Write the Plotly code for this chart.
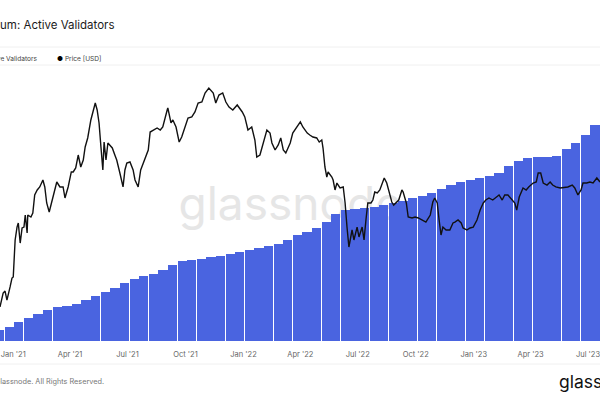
import pandas as pd
import plotly.graph_objects as go

# ---------------- data ----------------
# Active validators (thousands), semi-monthly bars starting 2020-12-10
bar_start = "2020-12-10 12:00"
validators_k = [35, 44, 60, 72, 85, 98, 107, 110, 117, 129, 142, 154, 167, 183, 195, 205, 211, 224, 239, 252, 255, 258,
                265, 268, 274, 280, 287, 293, 299, 306, 318, 334, 343, 356, 375, 400, 413, 416, 419, 422, 428, 435,
                441, 450, 457, 466, 479, 491, 501, 507, 513, 520, 529, 551, 567, 576, 580, 580, 583, 605, 624, 649,
                680, 718]
bar_dates = pd.date_range(bar_start, periods=len(validators_k), freq=pd.Timedelta(days=365.25 / 24))

# ETH price [USD]: day offsets from 2020-12-11 and prices
price_start = "2020-12-11"
price_days = [0,5,8,11,16,19,21,24,27,29,32,35,38,40,43,44,49,52,55,59,63,68,71,74,78,82,87,90,95,100,
              103,108,113,116,120,124,128,132,135,139,144,147,151,154,157,160,163,165,168,171,178,182,185,190,195,198,201,206,211,214,
              219,223,230,235,238,243,249,254,258,265,266,271,274,279,284,288,293,298,304,309,314,320,325,331,338,342,347,353,358,363,
              369,376,384,388,393,399,404,407,412,417,423,428,431,436,441,445,449,453,460,464,471,476,480,487,491,496,502,506,510,512,
              515,518,520,526,528,531,534,539,544,547,550,553,558,561,566,569,574,577,580,583,588,591,594,598,602,607,609,613,617,621,
              624,629,632,637,639,644,647,653,658,663,669,675,682,686,689,693,696,699,702,707,713,718,721,726,731,734,740,745,750,756,
              761,766,770,775,781,786,791,796,800,805,812,816,819,823,829,834,838,845,850,853,857,861,867,872,876,881,888,896,900,907,
              911,916,921,924,930,935,940,946,951]
price_usd = [553,634,647,592,674,736,744,1072,1218,1268,1040,1207,1218,1372,1149,1372,1345,1400,1672,1757,
             1810,1939,1810,1545,1413,1560,1810,1901,1810,1810,1623,1810,2099,2099,2184,2482,2205,2363,2688,2937,
             3509,3760,4149,3873,3407,2688,2141,2822,2363,2795,2661,2482,2363,2078,1810,2141,2294,2317,2141,1939,
             1810,2141,2410,2608,3115,3178,3242,3178,3274,3873,3951,3407,3509,3274,2822,2963,3274,3579,3615,3797,
             4149,4190,4582,4810,4582,4149,4491,4582,4190,3989,3873,4069,3797,3615,3178,3274,2879,2433,2482,2795,
             3178,3084,2795,2608,2741,2937,2608,2531,2795,3084,3274,3441,3274,3084,3025,2966,2937,2822,2879,2659,
             2205,1997,2099,1997,1939,1757,1882,1792,1810,1545,1218,1000,1183,1072,1218,1104,1218,1072,1306,1545,
             1545,1591,1722,1705,1757,1901,1978,1882,1705,1560,1514,1560,1591,1757,1722,1545,1345,1332,1345,1332,
             1306,1280,1372,1560,1623,1545,1306,1126,1218,1183,1183,1268,1280,1306,1268,1207,1183,1207,1218,1306,
             1441,1545,1591,1623,1591,1639,1672,1591,1672,1672,1591,1545,1441,1639,1792,1757,1810,1882,1901,2078,
             2078,1882,1845,1901,1845,1810,1792,1810,1810,1845,1792,1672,1757,1882,1882,1901,1882,1978,1901]
assert len(price_days) == len(price_usd)
price_dates = pd.Timestamp(price_start) + pd.to_timedelta(price_days, unit="D")

title_text = "Ethereum: Active Validators"
legend_names = ["Active Validators", "Price [USD]"]
footer_text = "© 2023 Glassnode. All Rights Reserved."
brand_text = "glassnode"

# ---------------- styling ----------------
BLUE = "#4a64e0"
FONT = "Inter"
W, H = 600, 400
PT, PB = 75, 341  # plot area top/bottom in pixels


def px_x(p):
    return p / W


def px_y(p):
    return (PB - p) / (PB - PT)


x_range = [pd.Timestamp("2020-12-11"), pd.Timestamp("2023-07-20")]

fig = go.Figure()

# watermark on the bottom subplot so it sits under the bars
fig.add_trace(go.Scatter(
    x=[pd.Timestamp("2022-03-16")], y=[0.5], mode="text", text=[brand_text],
    textfont=dict(family=FONT, size=46, color="#e6e6e6"),
    yaxis="y", hoverinfo="skip", showlegend=False))

fig.add_trace(go.Bar(
    x=bar_dates, y=[v * 1000 for v in validators_k], name=legend_names[0],
    marker=dict(color=BLUE, line=dict(width=0)),
    width=14.6 * 24 * 3600 * 1000,
    yaxis="y2", showlegend=False, hoverinfo="skip"))

fig.add_trace(go.Scatter(
    x=price_dates, y=price_usd, name=legend_names[1], mode="lines",
    line=dict(color="#111111", width=1.4),
    yaxis="y3", showlegend=False, hoverinfo="skip"))

fig.update_layout(
    width=W, height=H,
    margin=dict(l=0, r=0, t=PT, b=H - PB),
    paper_bgcolor="white", plot_bgcolor="white",
    font=dict(family=FONT),
    xaxis=dict(range=x_range, showgrid=False, zeroline=False, showline=False,
               tick0="2021-01-01", dtick="M3", tickformat="%b '%y",
               ticks="outside", ticklen=6, tickcolor="rgba(0,0,0,0)",
               ticklabeloverflow="allow",
               tickfont=dict(family=FONT, size=7.5, color="#666666")),
    yaxis=dict(range=[0, 1], visible=False),
    yaxis2=dict(range=[0, 838000], overlaying="y", visible=False),
    yaxis3=dict(type="log", range=[2.5966, 3.7382], overlaying="y", visible=False),
    showlegend=False,
    bargap=0,
)

annotations = [
    dict(text=title_text, x=px_x(117), y=px_y(25), xanchor="right", yanchor="middle",
         font=dict(family=FONT, size=11.5, color="#1b1b1b")),
    dict(text=f'<span style="color:{BLUE}">●</span>  {legend_names[0]}', x=px_x(39), y=px_y(59),
         xanchor="right", yanchor="middle", font=dict(family=FONT, size=6.6, color="#444444")),
    dict(text=f'<span style="color:#000000">●</span> {legend_names[1]}', x=px_x(55), y=px_y(59),
         xanchor="left", yanchor="middle", font=dict(family=FONT, size=6.6, color="#444444")),
    dict(text=footer_text, x=px_x(106), y=px_y(381), xanchor="right", yanchor="middle",
         font=dict(family=FONT, size=7.3, color="#777777")),
    dict(text=brand_text, x=px_x(557), y=px_y(381), xanchor="left", yanchor="middle",
         font=dict(family=FONT, size=17.5, color="#111111")),
]
for a in annotations:
    a.update(xref="paper", yref="paper", showarrow=False)
fig.update_layout(annotations=annotations)

shapes = []
for yy in (47, 65, 364):
    shapes.append(dict(type="line", xref="paper", yref="paper", x0=0, x1=1,
                       y0=px_y(yy), y1=px_y(yy), line=dict(color="#f0f0f0", width=1)))
fig.update_layout(shapes=shapes)

fig.write_html("out.html")
